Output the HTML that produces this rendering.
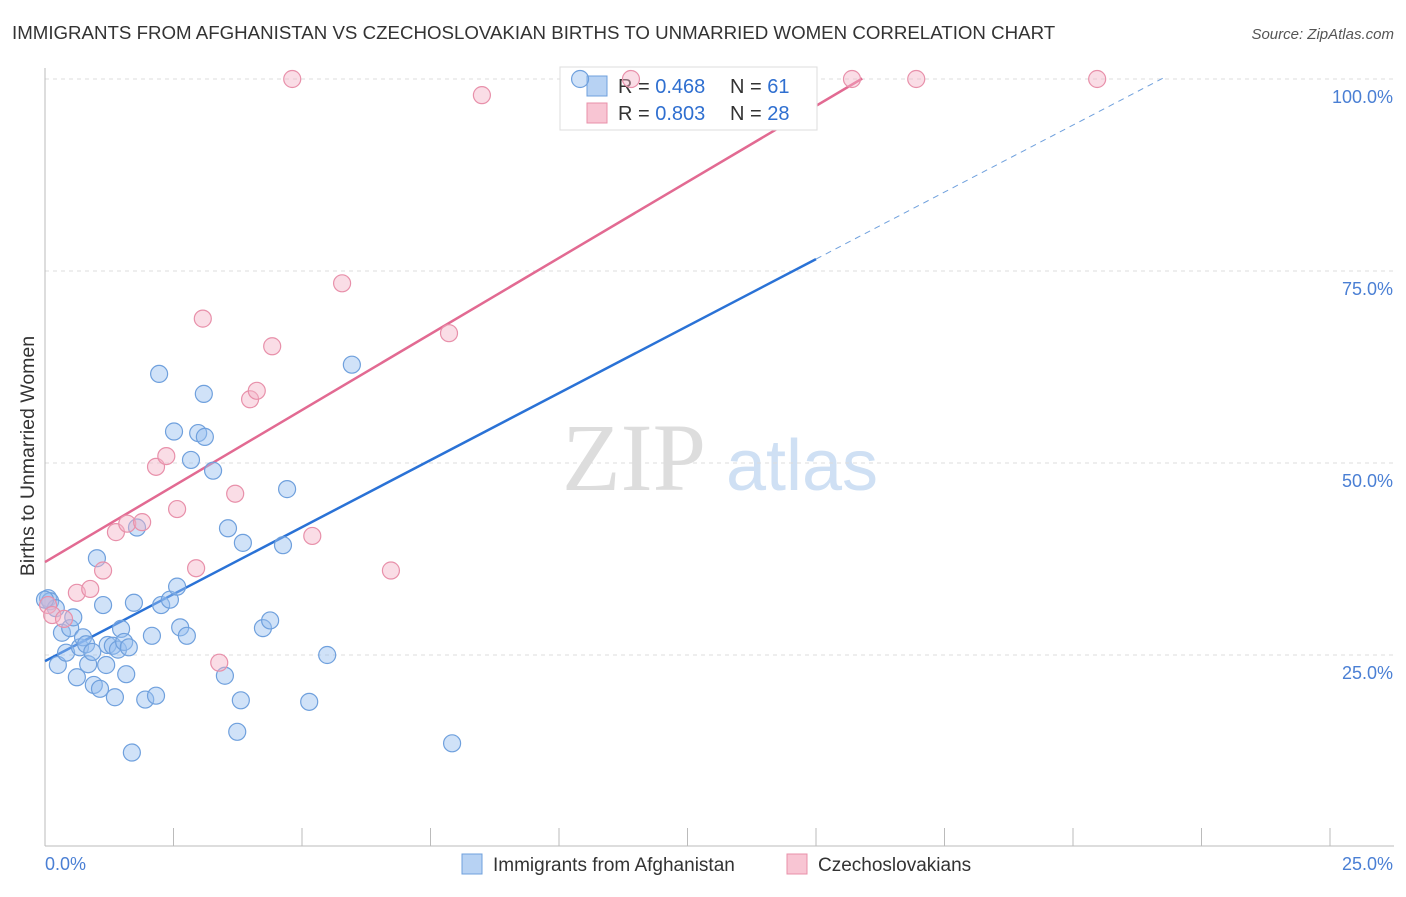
<!DOCTYPE html>
<html><head><meta charset="utf-8"><style>
body{margin:0;background:#fff;font-family:"Liberation Sans",sans-serif;}
</style></head><body>
<svg id="chart" width="1406" height="892" xmlns="http://www.w3.org/2000/svg">
<text x="12" y="39" font-size="18.7" fill="#333">IMMIGRANTS FROM AFGHANISTAN VS CZECHOSLOVAKIAN BIRTHS TO UNMARRIED WOMEN CORRELATION CHART</text>
<text x="1394" y="39" font-size="15" fill="#555" font-style="italic" text-anchor="end">Source: ZipAtlas.com</text>
<text x="34" y="456" font-size="19.5" fill="#333" text-anchor="middle" transform="rotate(-90 34 456)">Births to Unmarried Women</text>
<g><text x="634" y="490" font-size="96" fill="#ddd" font-family="Liberation Serif" text-anchor="middle">ZIP</text><text x="802" y="490" font-size="72" fill="#cfe0f4" text-anchor="middle">atlas</text></g>
<g id="grid"></g><g id="axes"></g><g id="lines"></g>
<g>
<rect x="560" y="67" width="257" height="63" fill="#fff" stroke="#ddd"/>
<rect x="587" y="76" width="20" height="20" fill="#b7d2f3" stroke="#6fa0dd"/>
<rect x="587" y="103" width="20" height="20" fill="#f8c5d3" stroke="#e890aa"/>
<text x="618" y="93" font-size="20" fill="#333">R = <tspan fill="#2f6fd0">0.468</tspan></text>
<text x="730" y="93" font-size="20" fill="#333">N =  <tspan fill="#2f6fd0">61</tspan></text>
<text x="618" y="120" font-size="20" fill="#333">R = <tspan fill="#2f6fd0">0.803</tspan></text>
<text x="730" y="120" font-size="20" fill="#333">N =  <tspan fill="#2f6fd0">28</tspan></text>
</g>
<g id="pts"></g>
<g>
<rect x="462" y="854" width="20" height="20" fill="#b7d2f3" stroke="#6fa0dd"/>
<text x="493" y="871" font-size="19" fill="#333">Immigrants from Afghanistan</text>
<rect x="787" y="854" width="20" height="20" fill="#f8c5d3" stroke="#e890aa"/>
<text x="818" y="871" font-size="19" fill="#333">Czechoslovakians</text>
</g>
</svg>
<script>
const blueX=[0.06,0.1,0.21,0.25,0.33,0.41,0.49,0.55,0.62,0.68,0.74,0.8,0.84,0.92,0.95,1.01,1.07,1.13,1.19,1.22,1.32,1.36,1.42,1.48,1.54,1.58,1.63,1.69,1.73,1.79,1.95,2.08,2.16,2.22,2.26,2.43,2.51,2.57,2.63,2.76,2.84,2.98,3.09,3.11,3.27,3.5,3.56,3.74,3.81,3.85,4.24,4.38,4.63,4.71,5.14,5.49,5.97,7.92,10.41,0.0];
const blueY=[32.4,32.0,31.1,23.7,27.9,25.3,28.5,29.9,22.1,26.0,27.3,26.4,23.8,25.4,21.1,37.6,20.6,31.5,23.7,26.3,26.2,19.5,25.7,28.4,26.7,22.5,26.0,12.3,31.8,41.6,19.2,27.5,19.7,61.6,31.5,32.2,54.1,33.9,28.6,27.5,50.4,53.9,59.0,53.4,49.0,22.3,41.5,15.0,19.1,39.6,28.5,29.5,39.3,46.6,18.9,25.0,62.8,13.5,100,32.2];
const pinkX=[0.06,0.14,0.37,0.62,0.88,1.13,1.38,1.6,1.89,2.16,2.36,2.57,2.94,3.07,3.39,3.7,3.99,4.12,4.42,5.2,5.78,6.73,7.86,8.5,4.81,11.4,15.7,16.95,20.47];
const pinkY=[31.5,30.2,29.7,33.1,33.6,36.0,41.0,42.1,42.3,49.5,50.9,44.0,36.3,68.8,24.0,46.0,58.3,59.4,65.2,40.5,73.4,36.0,66.9,97.9,100,100,100,100,100];
const xTicks=[0,2.5,5,7.5,10,12.5,15,17.5,20,22.5,25];
const yTicks=[25,50,75,100];
const yTickLabels=["25.0%","50.0%","75.0%","100.0%"];
const blueFit=[24.2,3.49]; // intercept, slope
const pinkFit=[37.1,3.96];
const NS="http://www.w3.org/2000/svg";
const X=v=>45+v/25*1285, Y=v=>847-v/100*768;
function mk(p,t,a){const e=document.createElementNS(NS,t);for(const k in a)e.setAttribute(k,a[k]);document.getElementById(p).appendChild(e);return e;}
yTicks.forEach((t,i)=>{
 const g=mk('grid','line',{x1:45,x2:1394,y1:Y(t),y2:Y(t),stroke:'#ddd','stroke-dasharray':'4 4'});
 
 
 const l=mk('axes','text',{x:1393,y:Y(t)+24,'font-size':18,fill:'#4a7fd4','text-anchor':'end'});l.textContent=yTickLabels[i];
 
 
});
mk('axes','line',{x1:45,x2:45,y1:68,y2:846,stroke:'#bbb'});
mk('axes','line',{x1:45,x2:1394,y1:846,y2:846,stroke:'#bbb'});
xTicks.forEach(t=>{const e=mk('axes','line',{x1:X(t),x2:X(t),y1:828,y2:846,stroke:'#bbb'});
 
 });
let a=mk('axes','text',{x:45,y:870,'font-size':18,fill:'#4a7fd4'});a.textContent="0.0%";


a=mk('axes','text',{x:1393,y:870,'font-size':18,fill:'#4a7fd4','text-anchor':'end'});a.textContent="25.0%";


blueX.forEach((v,i)=>{const c=mk('pts','circle',{cx:X(v),cy:Y(blueY[i]),r:8.5,fill:'rgba(150,190,240,0.45)',stroke:'#6fa0dd','stroke-width':1.2});
 
 });
pinkX.forEach((v,i)=>{const c=mk('pts','circle',{cx:X(v),cy:Y(pinkY[i]),r:8.5,fill:'rgba(245,180,200,0.45)',stroke:'#e890aa','stroke-width':1.2});
 
 });
const bf=x=>blueFit[0]+blueFit[1]*x, pf=x=>pinkFit[0]+pinkFit[1]*x;
let l=mk('lines','line',{x1:X(0),y1:Y(bf(0)),x2:X(15),y2:Y(bf(15)),stroke:'#2a72d6','stroke-width':2.5});


l=mk('lines','line',{x1:X(15),y1:Y(bf(15)),x2:X(21.8),y2:Y(bf(21.8)),stroke:'#6fa0dd','stroke-width':1,'stroke-dasharray':'6 5'});


l=mk('lines','line',{x1:X(0),y1:Y(pf(0)),x2:X(15.9),y2:Y(pf(15.9)),stroke:'#e26a92','stroke-width':2.5});


</script>
</body></html>
